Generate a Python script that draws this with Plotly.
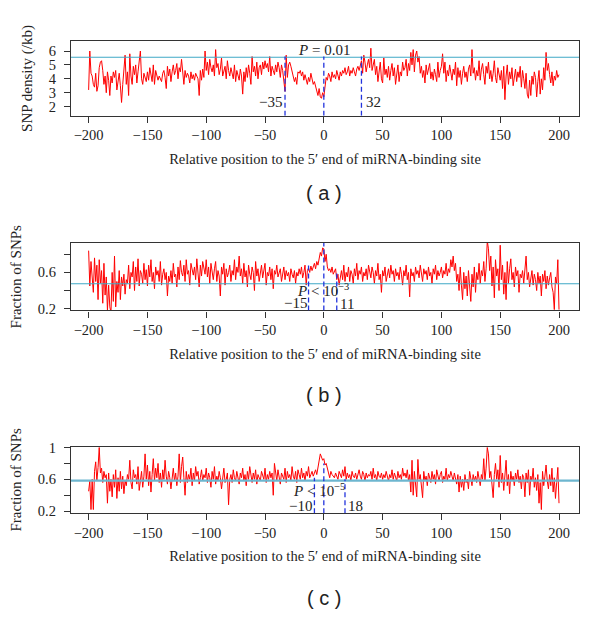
import plotly.graph_objects as go

positions = list(range(-200, 201))

snp_density_a = [float(v) for v in """
3.2 6.0 4.4 4.2 3.6 3.4 4.4 3.1 3.5 4.8
5.2 5.3 4.6 3.6 4.2 3.0 4.5 3.9 2.8 4.2
3.7 4.5 4.1 4.6 3.2 4.0 4.4 3.5 2.3 3.6
4.4 5.7 3.6 4.5 2.8 5.8 4.2 3.6 4.9 4.3
5.0 3.7 4.5 5.2 6.0 4.0 3.6 4.4 4.0 3.8
4.5 3.9 4.8 4.1 3.8 5.0 3.6 4.6 4.2 3.9
4.2 4.0 3.8 4.4 4.6 4.1 3.3 4.9 4.2 4.7
3.8 4.5 5.0 4.3 4.6 5.1 4.0 4.8 4.5 5.4
4.3 3.6 4.6 4.1 4.4 4.2 3.7 4.5 4.0 4.3
3.9 4.4 4.2 4.0 2.8 4.6 3.9 4.7 4.1 6.0
4.6 5.2 4.3 5.4 4.8 4.5 5.0 4.2 6.1 4.8
5.1 4.3 4.7 5.5 4.2 4.5 4.9 4.0 5.3 4.6
4.2 4.8 4.4 4.0 5.0 3.8 4.6 4.3 3.9 4.7
4.2 2.9 4.5 3.8 4.8 4.1 5.0 4.4 3.6 5.6
4.5 4.9 4.2 5.2 4.0 4.8 5.0 4.3 5.2 4.7
5.3 4.8 5.1 4.5 5.6 4.2 4.9 4.6 4.3 5.0
4.5 5.2 4.8 4.1 5.0 4.6 3.9 3.1 5.7 4.1
5.0 5.2 4.9 4.6 4.3 3.8 4.1 3.6 4.5 4.4
4.6 4.2 4.5 3.9 4.3 4.0 3.6 4.1 3.8 4.4
4.0 3.6 3.8 3.4 3.1 2.8 3.3 2.7 2.6 3.0
2.7 3.6 4.1 3.9 4.4 4.2 3.8 4.5 4.1 4.3
4.0 4.6 4.3 3.9 4.5 4.2 4.6 4.4 4.8 4.3
4.5 4.9 4.2 4.6 4.4 4.8 4.5 4.2 4.7 4.9
4.6 5.0 5.3 4.4 5.7 5.2 4.5 5.0 5.4 4.8
6.2 4.6 5.1 5.4 4.3 4.9 3.8 4.5 5.2 4.0
3.7 5.5 4.3 4.7 4.1 4.9 3.9 4.6 5.1 4.2
4.8 3.6 4.4 5.0 3.8 4.5 4.2 5.2 4.6 4.8
5.4 4.2 5.1 4.6 5.9 5.0 6.1 4.5 5.7 6.0
5.2 5.6 4.4 4.9 4.1 4.6 3.7 5.0 4.3 4.8
5.1 4.0 4.5 3.9 4.7 4.3 3.8 5.2 4.1 4.6
4.9 5.8 4.4 5.2 3.8 4.6 4.2 5.0 4.5 3.9
4.7 4.3 5.2 3.5 4.8 4.1 4.6 3.6 4.4 4.9
4.1 4.5 3.8 4.7 5.0 4.2 6.1 4.4 4.8 3.9
4.6 4.2 5.3 3.9 4.7 5.1 4.3 3.6 4.9 4.4
5.2 4.0 4.6 3.8 4.4 5.3 4.1 3.7 4.8 4.2
3.9 4.6 3.3 4.9 2.5 4.2 5.0 3.6 4.5 4.0
4.8 3.5 4.3 4.7 3.8 4.5 4.1 4.9 3.4 4.6
4.0 3.3 4.4 2.9 2.6 3.9 2.8 4.2 3.6 4.5
4.1 2.7 3.8 4.6 2.9 4.0 3.2 4.8 3.9 5.9
4.6 5.1 4.3 3.7 4.5 3.5 4.2 3.9 4.6 4.1
4.3
""".split()]

fraction_b = [float(v) for v in """
0.84 0.45 0.72 0.55 0.38 0.76 0.50 0.68 0.30 0.74
0.48 0.62 0.26 0.70 0.35 0.55 0.18 0.46 0.22 0.16
0.60 0.28 0.78 0.22 0.50 0.38 0.62 0.30 0.55 0.45
0.58 0.36 0.52 0.48 0.68 0.42 0.60 0.55 0.72 0.40
0.66 0.50 0.75 0.45 0.62 0.58 0.48 0.70 0.52 0.63
0.45 0.68 0.55 0.74 0.50 0.60 0.42 0.66 0.57 0.62
0.50 0.72 0.46 0.58 0.64 0.52 0.60 0.34 0.56 0.50
0.62 0.48 0.70 0.55 0.58 0.44 0.66 0.52 0.73 0.60
0.56 0.68 0.50 0.74 0.58 0.62 0.46 0.70 0.64 0.57
0.66 0.52 0.75 0.60 0.44 0.68 0.56 0.72 0.62 0.58
0.74 0.55 0.66 0.48 0.70 0.60 0.52 0.64 0.72 0.50
0.62 0.56 0.34 0.66 0.58 0.70 0.46 0.64 0.55 0.60
0.68 0.50 0.62 0.57 0.74 0.52 0.66 0.60 0.78 0.56
0.64 0.48 0.70 0.55 0.62 0.44 0.68 0.58 0.52 0.66
0.60 0.40 0.72 0.56 0.64 0.50 0.58 0.68 0.54 0.62
0.70 0.46 0.60 0.56 0.66 0.52 0.64 0.42 0.62 0.58
0.68 0.55 0.60 0.64 0.50 0.58 0.66 0.52 0.62 0.56
0.60 0.50 0.64 0.58 0.54 0.62 0.48 0.60 0.56 0.64
0.58 0.66 0.54 0.60 0.68 0.46 0.62 0.65 0.60 0.67
0.62 0.66 0.70 0.64 0.72 0.68 0.74 0.82 0.78 0.87
0.86 0.72 0.80 0.66 0.62 0.64 0.60 0.66 0.58 0.62
0.64 0.52 0.58 0.46 0.56 0.62 0.52 0.68 0.50 0.60
0.55 0.66 0.50 0.62 0.58 0.48 0.64 0.56 0.70 0.52
0.62 0.58 0.66 0.50 0.60 0.56 0.64 0.52 0.68 0.58
0.54 0.66 0.60 0.48 0.62 0.56 0.70 0.52 0.58 0.38
0.62 0.56 0.66 0.50 0.60 0.64 0.54 0.68 0.58 0.62
0.50 0.64 0.56 0.60 0.52 0.66 0.58 0.46 0.62 0.56
0.68 0.52 0.60 0.33 0.64 0.56 0.60 0.50 0.66 0.58
0.62 0.54 0.68 0.56 0.50 0.64 0.58 0.62 0.52 0.66
0.56 0.60 0.48 0.64 0.58 0.68 0.52 0.62 0.56 0.60
0.66 0.54 0.62 0.58 0.70 0.56 0.64 0.60 0.74 0.66
0.78 0.62 0.70 0.50 0.58 0.40 0.66 0.46 0.30 0.60
0.42 0.56 0.34 0.62 0.48 0.28 0.58 0.44 0.66 0.38
0.60 0.52 0.70 0.48 0.62 0.56 0.72 0.50 0.64 0.95
0.86 0.62 0.78 0.45 0.66 0.32 0.74 0.56 0.64 0.40
0.90 0.52 0.68 0.36 0.60 0.30 0.72 0.48 0.64 0.75
0.52 0.60 0.44 0.66 0.56 0.62 0.38 0.58 0.54 0.62
0.48 0.66 0.78 0.52 0.60 0.44 0.56 0.62 0.46 0.58
0.52 0.40 0.60 0.48 0.56 0.34 0.58 0.50 0.62 0.42
0.56 0.46 0.54 0.60 0.44 0.38 0.19 0.55 0.48 0.74
0.19
""".split()]

fraction_c = [float(v) for v in """
0.45 0.58 0.22 0.60 0.22 0.70 0.82 0.58 0.75 1.00
0.68 0.74 0.56 0.70 0.62 0.66 0.30 0.68 0.45 0.60
0.38 0.66 0.50 0.72 0.36 0.62 0.45 0.70 0.48 0.64
0.42 0.58 0.52 0.66 0.60 0.84 0.56 0.48 0.72 0.62
0.66 0.54 0.76 0.46 0.58 0.70 0.50 0.64 0.92 0.60
0.78 0.52 0.70 0.44 0.66 0.86 0.58 0.74 0.62 0.80
0.56 0.68 0.50 0.72 0.60 0.84 0.64 0.54 0.70 0.62
0.48 0.66 0.74 0.58 0.68 0.52 0.64 0.92 0.56 0.76
0.88 0.62 0.40 0.70 0.56 0.66 0.60 0.74 0.52 0.68
0.58 0.76 0.64 0.70 0.54 0.62 0.72 0.58 0.66 0.62
0.74 0.56 0.68 0.62 0.50 0.70 0.60 0.76 0.54 0.64
0.58 0.70 0.62 0.48 0.66 0.74 0.56 0.60 0.68 0.28
0.60 0.66 0.56 0.72 0.62 0.58 0.70 0.64 0.54 0.68
0.62 0.74 0.58 0.66 0.52 0.70 0.60 0.76 0.64 0.56
0.68 0.60 0.72 0.54 0.66 0.62 0.58 0.70 0.64 0.60
0.74 0.56 0.66 0.60 0.70 0.62 0.68 0.40 0.80 0.66
0.58 0.72 0.62 0.54 0.68 0.64 0.60 0.74 0.56 0.70
0.62 0.66 0.58 0.76 0.64 0.60 0.70 0.56 0.72 0.66
0.60 0.74 0.62 0.68 0.58 0.70 0.64 0.76 0.62 0.66
0.70 0.64 0.68 0.72 0.66 0.74 0.80 0.92 0.88 0.84
0.86 0.78 0.80 0.72 0.68 0.62 0.70 0.66 0.64 0.62
0.68 0.64 0.60 0.70 0.66 0.62 0.72 0.64 0.76 0.60
0.68 0.62 0.66 0.58 0.70 0.64 0.62 0.68 0.60 0.66
0.72 0.64 0.60 0.70 0.66 0.58 0.68 0.62 0.66 0.64
0.70 0.60 0.74 0.62 0.66 0.58 0.70 0.64 0.62 0.68
0.60 0.66 0.62 0.70 0.64 0.58 0.66 0.62 0.72 0.60
0.68 0.64 0.58 0.70 0.62 0.66 0.60 0.74 0.64 0.68
0.62 0.72 0.58 0.66 0.44 0.84 0.40 0.70 0.56 0.38
0.85 0.60 0.66 0.46 0.37 0.70 0.58 0.64 0.52 0.68
0.62 0.56 0.70 0.60 0.66 0.54 0.72 0.62 0.58 0.66
0.70 0.56 0.64 0.60 0.74 0.58 0.66 0.62 0.70 0.64
0.58 0.68 0.62 0.54 0.66 0.44 0.64 0.50 0.60 0.46
0.66 0.56 0.60 0.48 0.70 0.62 0.52 0.66 0.58 0.64
0.56 0.70 0.62 0.52 0.66 0.60 0.86 0.58 0.74 1.00
0.92 0.62 0.70 0.54 0.37 0.66 0.80 0.60 0.72 0.50
0.90 0.56 0.68 0.46 0.62 0.84 0.52 0.66 0.42 0.70
0.58 0.64 0.52 0.68 0.60 0.72 0.56 0.64 0.48 0.66
0.62 0.38 0.68 0.56 0.72 0.40 0.64 0.58 0.74 0.50
0.62 0.46 0.66 0.30 0.56 0.22 0.70 0.52 0.64 0.78
0.58 0.48 0.66 0.52 0.74 0.44 0.62 0.36 0.56 0.75
0.30
""".split()]

# reference (threshold) levels
baseline_a = 5.55
baseline_b = 0.475
baseline_c = 0.585

# dashed boundary lines: (position, top value)
bounds_a = [(-33, 5.6), (0, 5.6), (32, 5.6)]
bounds_b = [(-13, 0.69), (0, 0.925), (11, 0.6)]
bounds_c = [(-8, 0.62), (0, 0.8), (18, 0.6)]

x_ticks = [-200, -150, -100, -50, 0, 50, 100, 150, 200]
y_ticks_a = [2, 3, 4, 5, 6]
y_ticks_b = [0.2, 0.4, 0.6, 0.8]
y_labels_b = ["0.2", "", "0.6", ""]
y_ticks_c = [0.2, 0.4, 0.6, 0.8, 1.0]
y_labels_c = ["0.2", "", "0.6", "", "1"]

x_title = "Relative position to the 5′ end of miRNA-binding site"
panel_labels = ["( a )", "( b )", "( c )"]

W, H = 600, 619
SERIF = "Liberation Serif, Times New Roman, serif"
TXT = "#222222"


def py(px):
    return 1 - px / H


x_dom = [71 / W, 579 / W]
panels = [
    dict(y=snp_density_a, base=baseline_a, bounds=bounds_a, top=35, bottom=111,
         yr=[1.35, 6.70], tv=y_ticks_a, tt=[str(v) for v in y_ticks_a],
         ytitle="SNP density (/kb)", lw=1.2, lc="#3FA8C6"),
    dict(y=fraction_b, base=baseline_b, bounds=bounds_b, top=241, bottom=310,
         yr=[0.18, 0.925], tv=y_ticks_b, tt=y_labels_b,
         ytitle="Fraction of SNPs", lw=1.2, lc="#3FA8C6"),
    dict(y=fraction_c, base=baseline_c, bounds=bounds_c, top=449, bottom=517,
         yr=[0.175, 1.012], tv=y_ticks_c, tt=y_labels_c,
         ytitle="Fraction of SNPs", lw=2.2, lc="#6DB6CF"),
]

fig = go.Figure()
layout = dict(
    width=W, height=H, autosize=False,
    margin=dict(l=0, r=0, t=0, b=0),
    paper_bgcolor="white", plot_bgcolor="white",
    showlegend=False,
    font=dict(family=SERIF, size=14, color=TXT),
)
shapes = []
annotations = []

for i, p in enumerate(panels):
    n = "" if i == 0 else str(i + 1)
    xa, ya = "x" + n, "y" + n
    fig.add_trace(go.Scatter(x=positions, y=p["y"], mode="lines",
                             line=dict(color="#FF0000", width=1),
                             xaxis=xa, yaxis=ya, hoverinfo="skip"))
    layout["xaxis" + n] = dict(
        domain=x_dom, anchor=ya, range=[-215, 217],
        tickvals=x_ticks, ticks="outside", ticklen=6, tickwidth=1,
        tickcolor="#333", showline=True, linecolor="#333", linewidth=1.3,
        mirror=True, showgrid=False, zeroline=False,
        tickfont=dict(family=SERIF, size=14.5, color=TXT),
        title=dict(text=x_title, standoff=11,
                   font=dict(family=SERIF, size=14.5, color=TXT)),
    )
    layout["yaxis" + n] = dict(
        domain=[py(p["bottom"]), py(p["top"])], anchor=xa, range=p["yr"],
        tickvals=p["tv"], ticktext=p["tt"], ticks="outside", ticklen=6,
        tickwidth=1, tickcolor="#333", showline=True, linecolor="#333",
        linewidth=1.3, mirror=True, showgrid=False, zeroline=False,
        ticklabelstandoff=5,
        tickfont=dict(family=SERIF, size=14.5, color=TXT),
        title=dict(text=p["ytitle"], standoff=12,
                   font=dict(family=SERIF, size=15, color=TXT)),
    )
    # baseline
    shapes.append(dict(type="line", xref=xa + " domain", yref=ya,
                       x0=0, x1=1, y0=p["base"], y1=p["base"],
                       line=dict(color=p["lc"], width=p["lw"])))
    # dashed boundaries
    for pos, topv in p["bounds"]:
        shapes.append(dict(type="line", xref=xa, yref=ya, x0=pos, x1=pos,
                           y0=p["yr"][0], y1=topv, layer="above",
                           line=dict(color="#2233DD", width=1.3, dash="5px,3px")))
    annotations.append(dict(text=panel_labels[i], xref="paper", yref="paper",
                            x=324 / W, y=py([190, 396, 604][i]),
                            xanchor="center", yanchor="middle",
                            showarrow=False,
                            font=dict(family="Liberation Sans, Arial, sans-serif",
                                      size=20, color=TXT)))

# in-plot texts
def note(text, xa, ya, x, y, size=15):
    annotations.append(dict(text=text, xref=xa, yref=ya, x=x, y=y,
                            xanchor="center", yanchor="middle",
                            showarrow=False,
                            font=dict(family=SERIF, size=size, color=TXT)))

note("<i>P</i> = 0.01", "x", "y", 0.5, 6.08)
note("−35", "x", "y", -45.5, 2.34)
note("32", "x", "y", 42, 2.34)
note("<i>P</i> < 10<sup>−3</sup>", "x2", "y2", -0.5, 0.41)
note("−15", "x2", "y2", -24.4, 0.265)
note("11", "x2", "y2", 19.8, 0.256)
note("<i>P</i> < 10<sup>−5</sup>", "x3", "y3", -4, 0.46)
note("−10", "x3", "y3", -20, 0.264)
note("18", "x3", "y3", 26.6, 0.264)

layout["shapes"] = shapes
layout["annotations"] = annotations
fig.update_layout(**layout)
fig.write_html(
    "out.html",
    config={"displayModeBar": False},
    post_script="document.body.style.margin='0';document.body.style.overflow='hidden';",
)
